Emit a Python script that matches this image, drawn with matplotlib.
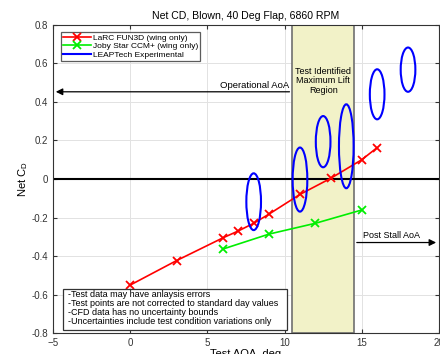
import matplotlib
matplotlib.use('Agg')
import matplotlib.pyplot as plt
from matplotlib.patches import Ellipse, Rectangle

plt.rcParams['font.family'] = ['Liberation Sans', 'DejaVu Sans']

# LaRC FUN3D (wing only)
larc_aoa = [0, 3, 6, 7, 8, 9, 11, 13, 15, 16]
larc_cd = [-0.551, -0.424, -0.306, -0.27, -0.23, -0.182, -0.08, 0.004, 0.10, 0.163]

# Joby Star CCM+ (wing only)
joby_aoa = [6, 9, 12, 15]
joby_cd = [-0.364, -0.286, -0.23, -0.161]

# LEAPTech experimental: centre and uncertainty span
exp_aoa = [8, 11, 12.5, 14, 16, 18]
exp_cd = [-0.118, -0.003, 0.194, 0.17, 0.44, 0.568]
exp_span = [0.295, 0.333, 0.266, 0.436, 0.26, 0.23]

region = (10.5, 14.5)

notes = ['-Test data may have anlaysis errors',
         '-Test points are not corrected to standard day values',
         '-CFD data has no uncertainty bounds',
         '-Uncertainties include test condition variations only']

fig = plt.figure(figsize=(4.4, 3.54), dpi=100)
ax = fig.add_axes([0.1205, 0.0593, 0.877, 0.8701])

ax.add_patch(Rectangle((region[0], -0.8), region[1] - region[0], 1.6,
                       facecolor='#f2f2c8', edgecolor='#707070', lw=1.2, zorder=1))
ax.axhline(0, color='black', lw=1.5, zorder=2)

ax.plot(larc_aoa, larc_cd, color='red', marker='x', ms=6, mew=1.3, lw=1.2,
        label='LaRC FUN3D (wing only)', zorder=4)
ax.plot(joby_aoa, joby_cd, color='#00ee00', marker='x', ms=6, mew=1.3, lw=1.2,
        label='Joby Star CCM+ (wing only)', zorder=4)
for a, c, s in zip(exp_aoa, exp_cd, exp_span):
    ax.add_patch(Ellipse((a, c), 0.95, s, fill=False, edgecolor='blue', lw=1.5, zorder=5))
ax.plot([], [], color='blue', lw=1.5, label='LEAPTech Experimental')

# operating range arrows
ax.annotate('', xy=(-5, 0.453), xytext=(region[0], 0.453),
            arrowprops=dict(arrowstyle='-|>', color='black', lw=0.9, mutation_scale=10), zorder=3)
ax.text(10.3, 0.46, 'Operational AoA', ha='right', va='bottom', fontsize=6.8)
ax.annotate('', xy=(20, -0.33), xytext=(region[1], -0.33),
            arrowprops=dict(arrowstyle='-|>', color='black', lw=0.9, mutation_scale=10), zorder=3)
ax.text(15.1, -0.318, 'Post Stall AoA', ha='left', va='bottom', fontsize=6.5)
ax.text(12.5, 0.51, 'Test Identified\nMaximum Lift\nRegion', ha='center', va='center',
        fontsize=6.5, linespacing=1.05, zorder=3)

# caveats box
ax.add_patch(Rectangle((-4.34, -0.784), 14.5, 0.213, facecolor='white',
                       edgecolor='#333333', lw=0.9, zorder=6))
ax.text(-4.05, -0.672, '\n'.join(notes), ha='left', va='center', fontsize=6.5,
        linespacing=1.0, zorder=7)

ax.set_xlim(-5, 20)
ax.set_ylim(-0.8, 0.8)
ax.set_xticks([-5, 0, 5, 10, 15, 20])
ax.set_yticks([-0.8, -0.6, -0.4, -0.2, 0, 0.2, 0.4, 0.6, 0.8])
ax.set_yticklabels(['-0.8', '-0.6', '-0.4', '-0.2', '0', '0.2', '0.4', '0.6', '0.8'])
ax.tick_params(labelsize=7, colors='#333333', direction='in', length=3, top=True, right=True)
ax.grid(True, color='#e2e2e2', lw=0.7)
ax.set_axisbelow(True)
for sp in ax.spines.values():
    sp.set_color('#333333')
    sp.set_linewidth(0.8)

ax.set_title('Net CD, Blown, 40 Deg Flap, 6860 RPM', fontsize=7.6, pad=4)
ax.set_xlabel('Test AOA, deg', fontsize=8, labelpad=1)
ax.set_ylabel('Net C$_\\mathregular{D}$', fontsize=8, labelpad=1)

leg = ax.legend(loc='upper left', fontsize=6.0, handlelength=3.3, borderpad=0.25,
                labelspacing=0.05, handletextpad=0.3, fancybox=False,
                bbox_to_anchor=(0.01, 0.99))
leg.get_frame().set_edgecolor('#333333')
leg.get_frame().set_linewidth(0.9)

fig.savefig('out.png', dpi=100)
